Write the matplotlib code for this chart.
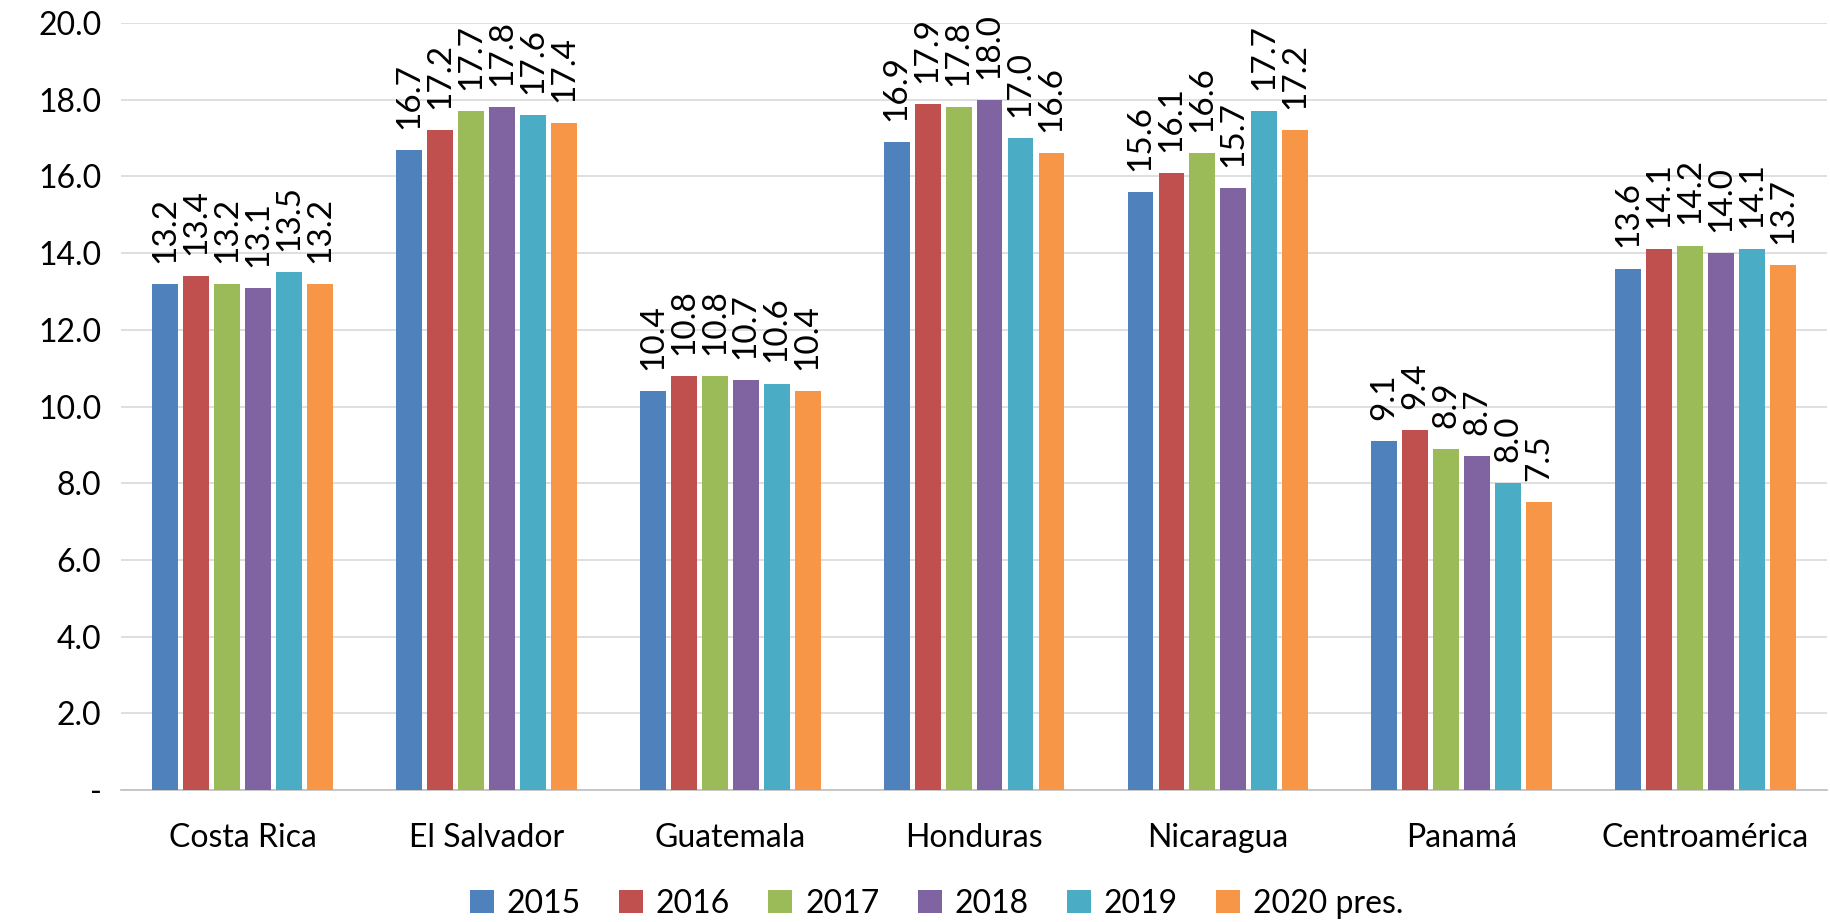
import numpy as np
import matplotlib.pyplot as plt

countries = ['Costa Rica', 'El Salvador', 'Guatemala', 'Honduras', 'Nicaragua', 'Panamá', 'Centroamérica']
years = ['2015', '2016', '2017', '2018', '2019', '2020 pres.']
v2015 = [13.2, 16.7, 10.4, 16.9, 15.6, 9.1, 13.6]
v2016 = [13.4, 17.2, 10.8, 17.9, 16.1, 9.4, 14.1]
v2017 = [13.2, 17.7, 10.8, 17.8, 16.6, 8.9, 14.2]
v2018 = [13.1, 17.8, 10.7, 18.0, 15.7, 8.7, 14.0]
v2019 = [13.5, 17.6, 10.6, 17.0, 17.7, 8.0, 14.1]
v2020 = [13.2, 17.4, 10.4, 16.6, 17.2, 7.5, 13.7]
series = [v2015, v2016, v2017, v2018, v2019, v2020]
colors = ['#4F81BD', '#C0504D', '#9BBB59', '#8064A2', '#4BACC6', '#F79646']

plt.rcParams['font.family'] = ['Lato', 'DejaVu Sans']

fig = plt.figure(figsize=(18.31, 9.22), dpi=100)
ax = fig.add_axes([0.066, 0.143, 0.932, 0.832])

x = np.arange(len(countries))
step = 0.127
width = 0.106
for i, (vals, c, yr) in enumerate(zip(series, colors, years)):
    pos = x + (i - 2.5) * step
    ax.bar(pos, vals, width, color=c, label=yr, zorder=3)
    for p, v in zip(pos, vals):
        ax.text(p, v + 0.55, f'{v:.1f}', rotation=90, ha='center', va='bottom',
                fontsize=24, color='black')

ax.set_ylim(0, 20)
ax.set_xlim(-0.5, len(countries) - 0.5)
ax.set_yticks(np.arange(0, 20.1, 2))
ax.set_yticklabels(['-'] + [f'{t:.1f}' for t in np.arange(2, 20.1, 2)])
ax.set_xticks(x)
ax.set_xticklabels(countries)
ax.tick_params(axis='both', labelsize=23, length=0)
ax.tick_params(axis='x', pad=24)
ax.tick_params(axis='y', pad=14)
ax.grid(axis='y', color='#D9D9D9', linewidth=1.2, zorder=0)
for s in ['top', 'right', 'left']:
    ax.spines[s].set_visible(False)
ax.spines['bottom'].set_color('#BFBFBF')
ax.spines['bottom'].set_linewidth(1.2)

ax.legend(loc='center', bbox_to_anchor=(0.478, -0.148), ncol=6, frameon=False,
          fontsize=23, handlelength=0.75, handleheight=0.75, columnspacing=1.2,
          handletextpad=0.4, borderpad=0.1)

fig.savefig('out.png', dpi=100)
